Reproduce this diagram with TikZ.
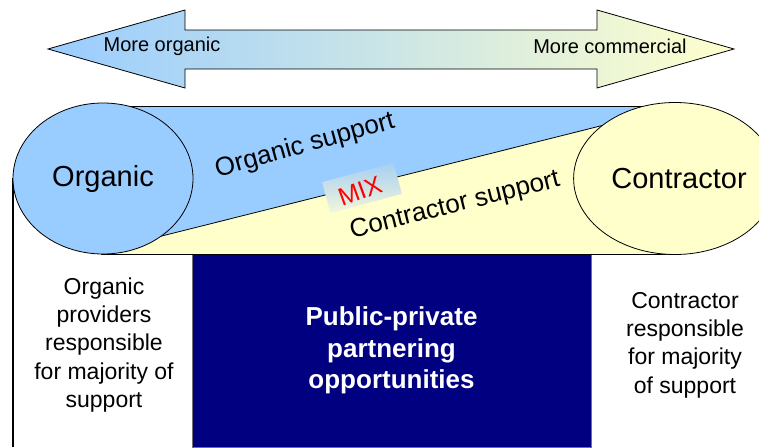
\documentclass[tikz,border=0pt]{standalone}
\usepackage{fontspec}
\setmainfont{Liberation Sans}
\usetikzlibrary{shapes.geometric}
\definecolor{orgblue}{HTML}{99CCFF}
\definecolor{conyellow}{HTML}{FFFFCC}
\definecolor{navybox}{HTML}{000080}
\definecolor{mixtop}{HTML}{A6CFF2}
\definecolor{mixbot}{HTML}{F4F6DC}
\tikzset{
  outline/.style={draw=black, line width=0.8pt},
  bubble/.style={ellipse, outline, inner sep=0pt, font=\fontsize{29}{34}\selectfont},
  sidetext/.style={align=center, inner sep=0pt, font=\fontsize{23}{28.4}\selectfont},
  bandtext/.style={inner sep=0pt, font=\fontsize{26}{30}\selectfont},
  arrowtext/.style={inner sep=0pt, font=\fontsize{20}{24}\selectfont},
}
\begin{document}
\begin{tikzpicture}[x=1pt,y=-1pt]
\useasboundingbox (0,0) rectangle (759,447);
% double arrow
\draw[outline, left color=orgblue, right color=conyellow]
  (48,49) -- (185,10) -- (185,30) -- (597,30) -- (597,10) -- (734,49)
  -- (597,88) -- (597,69) -- (185,69) -- (185,88) -- cycle;
\node[arrowtext] (morg) at (162,46) {More organic};
\node[arrowtext] (mcom) at (610,46) {More commercial};
% band
\fill[orgblue] (103,106) -- (680,106) -- (103,250.8) -- cycle;
\fill[conyellow] (103,250.8) -- (680,106) -- (680,254) -- (103,254) -- cycle;
\draw[outline] (110,249) -- (680,106);
\draw[outline] (103,106) -- (680,106);
% navy box
\node[fill=navybox, draw=black!55, line width=0.8pt, minimum width=399pt, minimum height=193pt, inner sep=0pt,
  text=white, align=center, font=\bfseries\fontsize{26}{31.6}\selectfont] (ppp) at (391.5,350.5)
  {Public-private\\partnering\\opportunities};
\draw[outline] (101,254) -- (672,254);
% left edge line
\draw[black, line width=1.6pt] (13,178) -- (13,447);
% bubbles
\node[bubble, fill=orgblue, minimum width=180pt, minimum height=151pt] (org) at (103,178.5) {Organic};
\node[bubble, fill=conyellow, minimum width=166pt, minimum height=152pt] (con) at (675,178.5) {\hspace*{8pt}Contractor};
% band texts
\node[bandtext, rotate=15.5] (osup) at (305,146) {Organic support};
\node[bandtext, rotate=14] (csup) at (455,206) {Contractor support};
% MIX tag
\node[rotate=15, top color=mixtop, bottom color=mixbot, minimum width=74pt, minimum height=32pt, inner sep=0pt] (mixbox) at (362,188) {};
\node[rotate=20, text=red, inner sep=0pt, font=\fontsize{25}{28}\selectfont] (mix) at (360,191) {MIX};
% side texts
\node[sidetext] (lefttxt) at (104,345) {Organic\\providers\\responsible\\for majority of\\support};
\node[sidetext] (righttxt) at (685,345) {Contractor\\responsible\\for majority\\of support};
\end{tikzpicture}
\end{document}
